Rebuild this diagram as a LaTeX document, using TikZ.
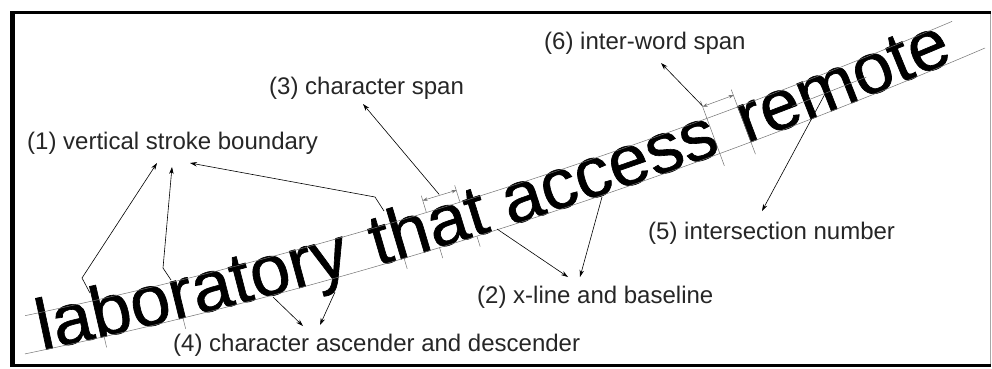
\documentclass[tikz,border=0pt]{standalone}
\usepackage{fontspec}
\setmainfont{Liberation Sans}
\newfontfamily\bigtext[FakeBold=0.9]{Liberation Sans}
\usetikzlibrary{arrows.meta,decorations.text,decorations.markings}
\begin{document}
\begin{tikzpicture}[x=1pt,y=-1pt,
  lbl/.style={anchor=west,inner sep=0pt,font=\fontsize{24}{28}\selectfont,text=black!85},
  arr/.style={-{Stealth[length=7pt,width=4.5pt]},line width=0.6pt},
  guide/.style={line width=0.5pt,black!55},
  tickmark/.style={line width=0.5pt,black!55},
  spanarr/.style={{Stealth[length=5pt,width=3.5pt]}-{Stealth[length=5pt,width=3.5pt]},line width=0.5pt},
  wordpath/.style={decorate,decoration={text along path,text align={left indent=#1}}}]
\useasboundingbox (0,0) rectangle (992,368);
\fill[white] (0,0) rectangle (992,368);
% frame
\draw[line width=1pt,black!35] (990,12.5) -- (990,365.5);
\draw[line width=3pt] (12.5,12.5) -- (991,12.5);
\draw[line width=3pt] (12.5,365.5) -- (991,365.5);
\draw[line width=5pt] (12.5,11) -- (12.5,367);
% curved text line, one word at a time
\path[wordpath=17pt,decoration={text={|\bigtext\fontsize{72}{80}\selectfont|laboratory}}]
   (25,353.9) .. controls (345,287.0) and (665,185.0) .. (985,48);
\path[wordpath=363pt,decoration={text={|\bigtext\fontsize{72}{80}\selectfont|that}}]
   (25,353.9) .. controls (345,287.0) and (665,185.0) .. (985,48);
\path[wordpath=502pt,decoration={text={|\bigtext\fontsize{72}{80}\selectfont|access}}]
   (25,353.9) .. controls (345,287.0) and (665,185.0) .. (985,48);
\path[wordpath=752pt,decoration={text={|\bigtext\fontsize{72}{80}\selectfont|remote}}]
   (25,353.9) .. controls (345,287.0) and (665,185.0) .. (985,48);
% baseline with marks
\draw[guide,postaction={decorate},decoration={markings,
   mark=at position 81pt with {\draw[tickmark] (0pt,-11pt) -- (0pt,0pt);},
   mark=at position 162pt with {\draw[tickmark] (0pt,-11pt) -- (0pt,0pt);},
   mark=at position 391pt with {\draw[tickmark] (0pt,-11pt) -- (0pt,0pt);},
   mark=at position 425.6pt with {\draw[tickmark] (0pt,38pt) -- (0pt,55pt);
        \draw[spanarr] (0pt,50pt) -- (35.3pt,50pt);},
   mark=at position 428pt with {\draw[tickmark] (0pt,-11pt) -- (0pt,0pt);},
   mark=at position 443.2pt with {\coordinate (cspan) at (0pt,51pt);},
   mark=at position 460.9pt with {\draw[tickmark] (0pt,38pt) -- (0pt,55pt);},
   mark=at position 467pt with {\draw[tickmark] (0pt,-11pt) -- (0pt,0pt);},
   mark=at position 723.6pt with {\draw[tickmark] (0pt,-13pt) -- (0pt,56pt);
        \draw[spanarr] (0pt,50pt) -- (33.1pt,50pt);
        \coordinate (wspan) at (0pt,51pt);},
   mark=at position 756.7pt with {\draw[tickmark] (0pt,-13pt) -- (0pt,56pt);},
   mark=at position 808pt with {\coordinate (mid1) at (0pt,18.7pt);},
   mark=at position 888pt with {\coordinate (mid2) at (0pt,18.7pt);}}]
   (25,353.9) .. controls (345,287.0) and (665,185.0) .. (985,48);
% x-line
\begin{scope}
  \clip (25,0) rectangle (952,368);
  \draw[guide] (17.35,317.3) .. controls (334.4,251.0) and (652.1,149.8) .. (970.3,13.6);
\end{scope}
\draw[guide] (mid1) -- (mid2);
% labels
\node[lbl] (l1) at (27,143) {(1) vertical stroke boundary};
\node[lbl] (l3) at (269,88) {(3) character span};
\node[lbl] (l6) at (544,43) {(6) inter-word span};
\node[lbl] (l5) at (648,233) {(5) intersection number};
\node[lbl] (l2) at (477,297) {(2) x-line and baseline};
\node[lbl] (l4) at (173,345) {(4) character ascender and descender};
% arrow end points
\coordinate (a1s) at (90,293); \coordinate (a1k) at (82,278); \coordinate (a1h) at (157,163);
\coordinate (b1s) at (171,280); \coordinate (b1k) at (163,268); \coordinate (b1h) at (172,167);
\coordinate (c1s) at (384,211); \coordinate (c1k) at (375,197); \coordinate (c1h) at (190,163);
\coordinate (a3h) at (363,104);
\coordinate (a6h) at (661,63);
\coordinate (a5s) at (826,92); \coordinate (a5h) at (762,211);
\coordinate (a2s) at (497,229); \coordinate (a2h) at (568,277);
\coordinate (b2s) at (602,197); \coordinate (b2h) at (580,277);
\coordinate (a4s) at (273,297); \coordinate (a4h) at (303,326);
\coordinate (b4s) at (335,292); \coordinate (b4h) at (320,325);
\draw[arr] (a1s) -- (a1k) -- (a1h);
\draw[arr] (b1s) -- (b1k) -- (b1h);
\draw[arr] (c1s) -- (c1k) -- (c1h);
\draw[arr] (cspan) -- (a3h);
\draw[arr] (wspan) -- (a6h);
\draw[arr] (a5s) -- (a5h);
\draw[arr] (a2s) -- (a2h);
\draw[arr] (b2s) -- (b2h);
\draw[arr] (a4s) -- (a4h);
\draw[arr] (b4s) -- (b4h);
\end{tikzpicture}
\end{document}
